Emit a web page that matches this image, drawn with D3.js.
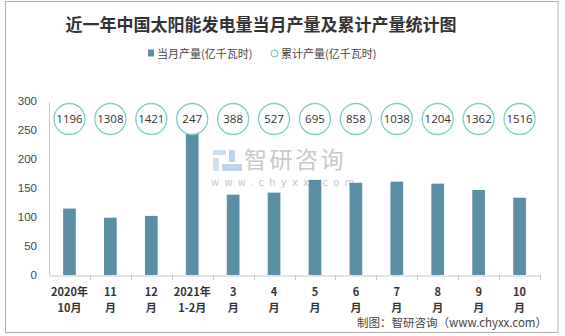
<!DOCTYPE html>
<html><head><meta charset="utf-8">
<script src="https://cdn.jsdelivr.net/npm/d3@7/dist/d3.min.js"></script>
<style>body{margin:0;background:#fff;}svg{display:block;}</style>
</head><body>
<script>
const categories = ["2020年|10月","11|月","12|月","2021年|1-2月","3|月","4|月","5|月","6|月","7|月","8|月","9|月","10|月"];
const monthly = [114.5, 98.8, 102, 247, 138.5, 142, 164, 159, 161, 157.5, 146.6, 133.3];
const cumulative = [1196, 1308, 1421, 247, 388, 527, 695, 858, 1038, 1204, 1362, 1516];
const yTicks = [0, 50, 100, 150, 200, 250, 300];
const title = "近一年中国太阳能发电量当月产量及累计产量统计图";
const legendNames = ["当月产量(亿千瓦时)", "累计产量(亿千瓦时)"];
const source = "制图：智研咨询（www.chyxx.com）";

const W = 565, H = 336;
const svg = d3.select("body").append("svg").attr("width", W).attr("height", H);
const cjk = "'Noto Sans CJK SC', 'Noto Sans', sans-serif";

svg.append("rect").attr("x", 5.5).attr("y", 1.5).attr("width", 552.5).attr("height", 331)
  .attr("fill", "#fff").attr("stroke", "#b0b0b0").attr("stroke-width", 1);

svg.append("text").attr("x", 261).attr("y", 31).attr("text-anchor", "middle")
  .attr("font-family", cjk).attr("font-weight", "bold").attr("font-size", 17).attr("fill", "#333")
  .text(title);

// legend
svg.append("rect").attr("x", 148).attr("y", 49.5).attr("width", 6).attr("height", 7).attr("fill", "#5b8fa5");
svg.append("text").attr("x", 157).attr("y", 57.5).attr("font-family", cjk).attr("font-size", 11).attr("fill", "#444").text(legendNames[0]);
svg.append("circle").attr("cx", 274.5).attr("cy", 53.5).attr("r", 3.3).attr("fill", "#fff").attr("stroke", "#7fcfc8").attr("stroke-width", 1.2);
svg.append("text").attr("x", 281).attr("y", 57.5).attr("font-family", cjk).attr("font-size", 11).attr("fill", "#444").text(legendNames[1]);

const x = d3.scaleBand().domain(categories).range([49, 540]).padding(0);
const y = d3.scaleLinear().domain([0, 300]).range([275, 101]);
const bw = x.bandwidth();

// watermark
const wm = svg.append("g").attr("opacity", 0.9);
wm.append("rect").attr("x", 213).attr("y", 150).attr("width", 13).attr("height", 5).attr("fill", "#c9dcec");
wm.append("rect").attr("x", 213).attr("y", 158).attr("width", 6).attr("height", 13).attr("fill", "#c9dcec");
wm.append("rect").attr("x", 229).attr("y", 150).attr("width", 6).attr("height", 12).attr("fill", "#b5cfe6");
wm.append("rect").attr("x", 222).attr("y", 164).attr("width", 20).attr("height", 7).attr("fill", "#b5cfe6");
wm.append("text").attr("x", 244).attr("y", 168).attr("font-family", cjk).attr("font-size", 23)
  .attr("fill", "#c4c4c4").attr("letter-spacing", 2.5).text("智研咨询");
wm.append("text").attr("x", 211).attr("y", 186).attr("font-family", "'DejaVu Sans', sans-serif").attr("font-size", 10)
  .attr("fill", "#c4c4c4").attr("letter-spacing", 5.2).text("www.chyxx.com");

// axes
svg.append("line").attr("x1", 49.5).attr("x2", 49.5).attr("y1", 102).attr("y2", 275).attr("stroke", "#c8c8c8");
svg.append("g").selectAll("text").data(yTicks).join("text")
  .attr("x", 37).attr("y", d => y(d) + 4).attr("text-anchor", "end")
  .attr("font-family", "'Liberation Sans', Arial, sans-serif").attr("font-size", 11.5).attr("fill", "#444").text(d => d);

const xAxis = svg.append("g").attr("transform", "translate(0,275.5)")
  .call(d3.axisBottom(x).tickSize(0).tickFormat(""));
xAxis.select(".domain").attr("stroke", "#c8c8c8");
xAxis.selectAll(".tick").remove();
svg.append("g").selectAll("line").data(categories).join("line")
  .attr("x1", (d, i) => Math.round(49 + bw * (i + 1)) + 0.5)
  .attr("x2", (d, i) => Math.round(49 + bw * (i + 1)) + 0.5)
  .attr("y1", 275).attr("y2", 280).attr("stroke", "#c8c8c8");

// bars
svg.append("g").selectAll("rect").data(monthly).join("rect")
  .attr("x", (d, i) => x(categories[i]) + bw * 0.345)
  .attr("width", bw * 0.31)
  .attr("y", d => y(d)).attr("height", d => y(0) - y(d))
  .attr("fill", "#5b8fa5");

// cumulative circles
const cg = svg.append("g").selectAll("g").data(cumulative).join("g")
  .attr("transform", (d, i) => `translate(${x(categories[i]) + bw / 2},119)`);
cg.append("circle").attr("r", 15.5).attr("fill", "#fff").attr("stroke", "#7fcfc8").attr("stroke-width", 1.3);
cg.append("text").attr("y", 4.3).attr("text-anchor", "middle")
  .attr("font-family", "'Open Sans', 'Liberation Sans', sans-serif").attr("font-size", 11.5).attr("fill", "#333").text(d => d);

// x labels
const xl = svg.append("g").selectAll("text").data(categories).join("text")
  .attr("x", d => x(d) + bw / 2).attr("text-anchor", "middle")
  .attr("font-family", cjk).attr("font-weight", "bold").attr("font-size", 11).attr("fill", "#333");
xl.append("tspan").attr("x", d => x(d) + bw / 2).attr("y", 296).text(d => d.split("|")[0]);
xl.append("tspan").attr("x", d => x(d) + bw / 2).attr("y", 312).text(d => d.split("|")[1]);

svg.append("text").attr("x", 547).attr("y", 327).attr("text-anchor", "end")
  .attr("font-family", cjk).attr("font-size", 11.5).attr("fill", "#444").text(source);
</script>
</body></html>
